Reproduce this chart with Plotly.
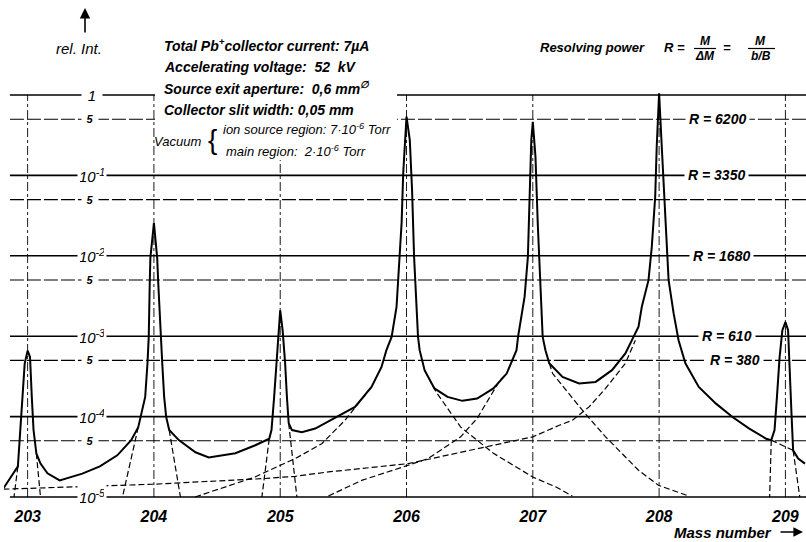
import numpy as np
import plotly.graph_objects as go

# ---------------- data ----------------
masses = [203, 204, 205, 206, 207, 208, 209]
mass_labels = ["203", "204", "205", "206", "207", "208", "209"]

decade_levels = [1, 1e-1, 1e-2, 1e-3, 1e-4, 1e-5]
decade_labels = ["1", "10<sup>-1</sup>", "10<sup>-2</sup>", "10<sup>-3</sup>",
                 "10<sup>-4</sup>", "10<sup>-5</sup>"]
half_levels = [0.5, 0.05, 0.005, 5e-4, 5e-5]
half_labels = ["5", "5", "5", "5", "5"]

r_levels = [0.5, 0.1, 0.01, 1e-3, 5e-4]
r_values = [6200, 3350, 1680, 610, 380]

# measured total spectrum (solid curve)
total_mass = [
    202.804, 202.923, 202.942, 202.959, 202.977, 203.000, 203.019, 203.033, 203.047, 203.069,
    203.102, 203.157, 203.254, 203.433, 203.572, 203.710, 203.820, 203.876, 203.903, 203.931,
    203.949, 203.959, 203.967, 203.972, 204.000, 204.026, 204.034, 204.052, 204.066, 204.081,
    204.097, 204.121, 204.197, 204.329, 204.434, 204.645, 204.803, 204.913, 204.931, 204.952,
    204.970, 204.985, 205.000, 205.019, 205.039, 205.053, 205.067, 205.093, 205.171, 205.277,
    205.434, 205.592, 205.723, 205.802, 205.841, 205.882, 205.921, 205.947, 205.961, 205.974,
    205.992, 206.000, 206.026, 206.044, 206.060, 206.072, 206.091, 206.104, 206.143, 206.221,
    206.325, 206.442, 206.559, 206.688, 206.793, 206.871, 206.883, 206.935, 206.961, 206.974,
    206.988, 207.000, 207.021, 207.039, 207.058, 207.078, 207.100, 207.130, 207.235, 207.366,
    207.497, 207.627, 207.733, 207.798, 207.837, 207.863, 207.916, 207.942, 207.969, 207.981,
    208.000, 208.021, 208.048, 208.075, 208.115, 208.154, 208.208, 208.314, 208.448, 208.581,
    208.714, 208.848, 208.888, 208.914, 208.933, 208.954, 208.976, 209.000, 209.021, 209.034,
    209.048, 209.061, 209.101, 209.155]
total_int = [
    1.25e-5, 2.4e-5, 6.8e-5, 1.76e-4, 4.6e-4, 6.6e-4, 5.5e-4, 1.76e-4, 6.8e-5, 3.5e-5,
    2.6e-5, 1.97e-5, 1.61e-5, 1.95e-5, 2.4e-5, 3.3e-5, 5.1e-5, 7.4e-5, 1.10e-4, 1.76e-4,
    4.6e-4, 9.8e-4, 4.7e-3, 9.4e-3, 0.0255, 9.4e-3, 4.7e-3, 9.8e-4, 4.6e-4, 1.76e-4,
    9.9e-5, 6.8e-5, 5.1e-5, 3.6e-5, 3.1e-5, 3.5e-5, 4.4e-5, 5.3e-5, 6.8e-5, 1.76e-4,
    4.6e-4, 1.19e-3, 2.1e-3, 1.19e-3, 4.6e-4, 1.76e-4, 8.3e-5, 6.8e-5, 6.4e-5, 7.1e-5,
    9.7e-5, 1.32e-4, 2.34e-4, 4.15e-4, 6.7e-4, 9.8e-4, 2.32e-3, 9.7e-3, 0.0255, 0.107,
    0.448, 0.54, 0.275, 0.0657, 9.7e-3, 4.5e-3, 9.8e-4, 6.7e-4, 3.78e-4, 2.24e-4,
    1.76e-4, 1.57e-4, 1.68e-4, 2.24e-4, 3.43e-4, 6.7e-4, 9.8e-4, 3.1e-3, 9.7e-3, 0.049,
    0.275, 0.465, 0.171, 0.0255, 4.5e-3, 9.8e-4, 6.7e-4, 4.6e-4, 3.12e-4, 2.58e-4,
    2.70e-4, 3.78e-4, 6.1e-4, 9.8e-4, 1.31e-3, 2.32e-3, 4.98e-3, 0.0129, 0.0542, 0.227,
    1.05, 0.227, 0.0337, 4.98e-3, 1.92e-3, 8.9e-4, 4.6e-4, 2.34e-4, 1.46e-4, 9.9e-5,
    7.1e-5, 5.3e-5, 5.1e-5, 6.8e-5, 1.76e-4, 5.5e-4, 1.19e-3, 1.5e-3, 1.19e-3, 4.6e-4,
    1.10e-4, 3.8e-5, 3.0e-5, 2.6e-5]

# individual peak tails (dashed curves)
tail208_left_mass = [202.809, 203.986, 204.855, 205.118, 205.382, 206.013, 206.688, 207.000,
                     207.210, 207.314, 207.445, 207.576, 207.733, 207.812]
tail208_left_int = [1.25e-5, 1.44e-5, 1.69e-5, 1.81e-5, 2.05e-5, 2.6e-5, 4.4e-5, 5.6e-5,
                    7.8e-5, 9.0e-5, 1.32e-4, 2.24e-4, 4.6e-4, 8.9e-4]
tail207_left_mass = [205.382, 205.645, 206.013, 206.169, 206.429, 206.559, 206.740, 206.793]
tail207_left_int = [1.03e-5, 1.61e-5, 2.48e-5, 3.0e-5, 5.6e-5, 9.5e-5, 2.84e-4, 3.43e-4]
tail206_right_mass = [206.143, 206.234, 206.429, 206.688, 207.000, 207.184, 207.312]
tail206_right_int = [3.78e-4, 2.03e-4, 7.4e-5, 3.5e-5, 1.77e-5, 1.33e-5, 1.03e-5]
tail207_right_mass = [207.131, 207.157, 207.392, 207.576, 207.837, 207.994, 208.234]
tail207_right_int = [4.6e-4, 3.43e-4, 1.20e-4, 5.6e-5, 2.15e-5, 1.40e-5, 1.03e-5]
tail206_left_mass = [204.326, 204.800, 204.855, 205.118, 205.329, 205.513, 205.723]
tail206_left_int = [1.0e-5, 1.77e-5, 1.95e-5, 3.0e-5, 4.6e-5, 9.0e-5, 2.34e-4]
tail208_right_mass = [208.888, 209.061]
tail208_right_int = [5.1e-5, 3.8e-5]

# peak cores continued below the tails (dashed)
core203_left_mass, core203_left_int = [202.923, 202.892], [2.4e-5, 1.0e-5]
core203_right_mass, core203_right_int = [203.069, 203.102], [3.5e-5, 1.0e-5]
core204_left_mass, core204_left_int = [203.876, 203.751], [7.4e-5, 1.0e-5]
core204_right_mass, core204_right_int = [204.121, 204.210], [6.8e-5, 1.0e-5]
core205_left_mass, core205_left_int = [204.913, 204.855], [5.3e-5, 1.0e-5]
core205_right_mass, core205_right_int = [205.067, 205.132], [8.3e-5, 1.0e-5]
core209_left_mass, core209_left_int = [208.888, 208.875], [5.1e-5, 1.0e-5]
core209_right_mass, core209_right_int = [209.061, 209.114], [3.8e-5, 1.0e-5]

# ---------------- layout geometry ----------------
W, H = 806, 542
ML, MR, MT, MB = 4, 0, 80, 37
PW, PH = W - ML - MR, H - MT - MB
X_RANGE = [202.813, 209.163]
Y_RANGE = [-5.0996, 0.1867]
FONT = "Liberation Sans, Arial, sans-serif"


def px2x(px):
    return (px - ML) / PW


def py2y(py):
    return 1 - (py - MT) / PH


fig = go.Figure()

# horizontal reference lines
x_left, x_right = 202.86, X_RANGE[1]
hx, hy = [], []
for lv in decade_levels:
    hx += [x_left, x_right, None]
    hy += [lv, lv, None]
fig.add_trace(go.Scatter(x=hx, y=hy, mode="lines",
                         line=dict(color="black", width=1.6), hoverinfo="skip"))
hx, hy = [], []
for lv in half_levels:
    hx += [x_left, x_right, None]
    hy += [lv, lv, None]
fig.add_trace(go.Scatter(x=hx, y=hy, mode="lines",
                         line=dict(color="black", width=1.1, dash="14px,3px"),
                         hoverinfo="skip"))

# vertical mass lines
vx, vy = [], []
for m in masses:
    vx += [m, m, None]
    vy += [decade_levels[-1], decade_levels[0], None]
fig.add_trace(go.Scatter(x=vx, y=vy, mode="lines",
                         line=dict(color="black", width=0.9, dash="dashdot"),
                         hoverinfo="skip"))

# dashed component curves
dashed_sets = [
    (tail208_left_mass, tail208_left_int), (tail207_left_mass, tail207_left_int),
    (tail206_right_mass, tail206_right_int), (tail207_right_mass, tail207_right_int),
    (tail206_left_mass, tail206_left_int), (tail208_right_mass, tail208_right_int),
    (core203_left_mass, core203_left_int), (core203_right_mass, core203_right_int),
    (core204_left_mass, core204_left_int), (core204_right_mass, core204_right_int),
    (core205_left_mass, core205_left_int), (core205_right_mass, core205_right_int),
    (core209_left_mass, core209_left_int), (core209_right_mass, core209_right_int),
]
for mx, iy in dashed_sets:
    fig.add_trace(go.Scatter(x=mx, y=iy, mode="lines",
                             line=dict(color="black", width=1.2, dash="6px,3px"),
                             hoverinfo="skip"))

# solid total curve
fig.add_trace(go.Scatter(x=total_mass, y=total_int, mode="lines",
                         line=dict(color="black", width=2.0), hoverinfo="skip"))

# ---------------- annotations ----------------
annotations = []


def txt(text, px, py, size=14, anchor="left", bold=False, bg=None, pad=1, italic=True):
    t = text
    if italic:
        t = "<i>" + t + "</i>"
    if bold:
        t = "<b>" + t + "</b>"
    d = dict(text=t, x=px2x(px), y=py2y(py), xref="paper", yref="paper",
             xanchor=anchor, yanchor="middle", showarrow=False,
             font=dict(family=FONT, size=size, color="black"), borderpad=pad)
    if bg:
        d["bgcolor"] = bg
    annotations.append(d)


# y level labels (white boxes cut the lines)
for lv, lab in zip(decade_levels, decade_labels):
    annotations.append(dict(text="<i>" + lab + "</i>", x=px2x(92), y=np.log10(lv),
                            xref="paper", yref="y", xanchor="center", yanchor="middle",
                            showarrow=False, bgcolor="white", borderpad=2,
                            width=24 if lv != 1 else 16,
                            font=dict(family=FONT, size=15, color="black")))
for lv, lab in zip(half_levels, half_labels):
    annotations.append(dict(text="<i><b>" + lab + "</b></i>", x=px2x(90), y=np.log10(lv),
                            xref="paper", yref="y", xanchor="center", yanchor="middle",
                            showarrow=False, bgcolor="white", borderpad=2, width=12,
                            font=dict(family=FONT, size=11, color="black")))

# resolving-power labels
r_px = [717, 716, 721, 727, 735]
for lv, rv, px in zip(r_levels, r_values, r_px):
    annotations.append(dict(text="<b><i>R = %d</i></b>" % rv, x=px2x(px), y=np.log10(lv),
                            xref="paper", yref="y", xanchor="center", yanchor="middle",
                            showarrow=False, bgcolor="white", borderpad=3,
                            font=dict(family=FONT, size=14, color="black")))

# header text block
txt("Total Pb<sup>+</sup>collector current: 7µA", 162, 45, bold=True)
txt("Accelerating voltage:  52  kV", 162, 67, bold=True)
txt("Source exit aperture:  0,6 mm<sup>∅</sup>", 162, 88, bold=True)
txt("Collector slit width: 0,05 mm", 162, 110, bold=True)
txt("Vacuum", 152, 141, size=13)
txt("{", 206, 140, size=28, italic=False)
txt("ion source region: 7·10<sup>-6</sup> Torr", 221, 129, size=13)
txt("main region:  2·10<sup>-6</sup> Torr", 224, 151, size=13)

txt("rel. Int.", 79, 49, size=15, anchor="center")

# resolving power formula
txt("Resolving power", 538, 47, size=13, bold=True)
txt("R =", 662, 47, size=13, bold=True)
txt("M", 705, 41, size=12, anchor="center", bold=True)
txt("ΔM", 705, 56, size=12, anchor="center", bold=True)
txt("=", 727, 47, size=13, anchor="center", bold=True)
txt("M", 760, 41, size=12, anchor="center", bold=True)
txt("b/B", 761, 56, size=12, anchor="center", bold=True)

txt("Mass number", 672, 532, size=15, bold=True)

# arrows
annotations.append(dict(x=px2x(85), y=py2y(8), xref="paper", yref="paper", text="",
                        showarrow=True, ax=0, ay=26, arrowhead=2, arrowsize=1.3,
                        arrowwidth=1.6, arrowcolor="black"))
annotations.append(dict(x=px2x(803), y=py2y(532), xref="paper", yref="paper", text="",
                        showarrow=True, ax=-24, ay=0, arrowhead=2, arrowsize=1.2,
                        arrowwidth=1.6, arrowcolor="black"))

shapes = [
    # blank area behind the header text (lines are interrupted there)
    dict(type="rect", xref="paper", yref="paper", x0=px2x(155), x1=px2x(397),
         y0=py2y(160), y1=py2y(28), fillcolor="white", line=dict(width=0), layer="above"),
    # fraction bars
    dict(type="line", xref="paper", yref="paper", x0=px2x(694), x1=px2x(716),
         y0=py2y(48.5), y1=py2y(48.5), line=dict(color="black", width=1.2), layer="above"),
    dict(type="line", xref="paper", yref="paper", x0=px2x(748), x1=px2x(775),
         y0=py2y(48.5), y1=py2y(48.5), line=dict(color="black", width=1.2), layer="above"),
]

fig.update_layout(
    width=W, height=H, margin=dict(l=ML, r=MR, t=MT, b=MB),
    showlegend=False, plot_bgcolor="white", paper_bgcolor="white",
    font=dict(family=FONT, color="black"),
    annotations=annotations, shapes=shapes,
    xaxis=dict(range=X_RANGE, showgrid=False, zeroline=False, showline=False,
               tickvals=masses, ticktext=["<b><i>%s</i></b>" % s for s in mass_labels],
               ticks="", tickfont=dict(family=FONT, size=16, color="black")),
    yaxis=dict(type="log", range=Y_RANGE, visible=False, showgrid=False),
)

fig.write_html("out.html")
